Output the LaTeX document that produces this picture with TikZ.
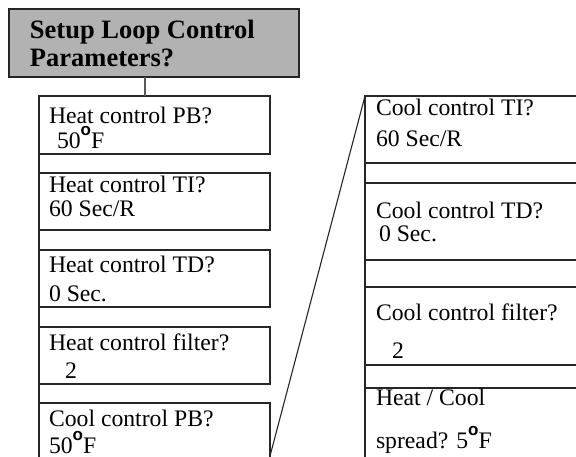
\documentclass[tikz,border=0pt]{standalone}
\usepackage{fontspec}
\setmainfont{Liberation Serif}
\setsansfont{Liberation Sans}
\newcommand{\degsym}{\raisebox{12.5pt}{\fontsize{17}{17}\sffamily\bfseries o}}
\begin{document}
\begin{tikzpicture}[x=1pt,y=-1pt,
  box/.style={draw=black!85, line width=1.1pt, inner sep=0pt, outer sep=0pt, anchor=north west, minimum width=231pt},
  rbox/.style={draw=black!85, line width=1.1pt, inner sep=0pt, outer sep=0pt, anchor=north west, minimum width=260pt},
  hdr/.style={draw=black!85, line width=2.4pt, fill=black!30, inner sep=0pt, outer sep=0pt, anchor=north west, minimum width=290pt, minimum height=68pt},
  txt/.style={anchor=base west, inner sep=0pt, outer sep=0pt, font=\fontsize{23.7}{24}\selectfont},
  htxt/.style={anchor=base west, inner sep=0pt, outer sep=0pt, font=\fontsize{26.5}{27}\selectfont\bfseries},
  conn/.style={line width=1.1pt, draw=black!85},
]
\clip (0,0) rectangle (576,456);
\fill[white] (0,0) rectangle (576,456);
% header
\node[hdr] (hdr) at (9,9) {};
\node[htxt] (h1) at (30,38.3) {Setup Loop Control};
\node[htxt] (h2) at (30,66.7) {Parameters?};
% left boxes
\node[box, minimum height=58pt] (b1) at (39,96) {};
\node[box, minimum height=57pt] (b2) at (39,173) {};
\node[box, minimum height=57pt] (b3) at (39,250) {};
\node[box, minimum height=57pt] (b4) at (39,327) {};
\node[box, minimum height=70pt] (b5) at (39,403) {};
% right boxes
\node[rbox, minimum height=67pt] (r1) at (365,96) {};
\node[rbox, minimum height=77pt] (r2) at (365,183) {};
\node[rbox, minimum height=78pt] (r3) at (365,287) {};
\node[rbox, minimum height=80pt] (r4) at (365,388) {};
% header connector
\coordinate (hc) at (145,77);
\draw[line width=1.4pt, draw=black!65] (hc) -- (hc |- b1.north);
% left spine
\draw[conn] (b1.south west) -- (b2.north west);
\draw[conn] (b2.south west) -- (b3.north west);
\draw[conn] (b3.south west) -- (b4.north west);
\draw[conn] (b4.south west) -- (b5.north west);
% right spine
\draw[conn] (r1.south west) -- (r2.north west);
\draw[conn] (r2.south west) -- (r3.north west);
\draw[conn] (r3.south west) -- (r4.north west);
% diagonal
\coordinate (dend) at (270,456);
\draw[conn] (r1.north west) -- (dend);
% left texts
\node[txt] (t1a) at (49,123.7) {Heat control PB?};
\node[txt] (t1b) at (57,148) {50\degsym F};
\node[txt] (t2a) at (49,192.5) {Heat control TI?};
\node[txt] (t2b) at (49,216.7) {60 Sec/R};
\node[txt] (t3a) at (49,272.7) {Heat control TD?};
\node[txt] (t3b) at (49,301) {0 Sec.};
\node[txt] (t4a) at (49,350) {Heat control filter?};
\node[txt] (t4b) at (65,378) {2};
\node[txt] (t5a) at (49,426.7) {Cool control PB?};
\node[txt] (t5b) at (49,453) {50\degsym F};
% right texts
\node[txt] (s1a) at (376,115) {Cool control TI?};
\node[txt] (s1b) at (376,146.7) {60 Sec/R};
\node[txt] (s2a) at (376,218.3) {Cool control TD?};
\node[txt] (s2b) at (379,241.7) {0 Sec.};
\node[txt] (s3a) at (376,320) {Cool control filter?};
\node[txt] (s3b) at (392,358) {2};
\node[txt] (s4a) at (376,405) {Heat / Cool};
\node[txt] (s4b) at (376,448) {spread? 5\degsym F};
\end{tikzpicture}
\end{document}
